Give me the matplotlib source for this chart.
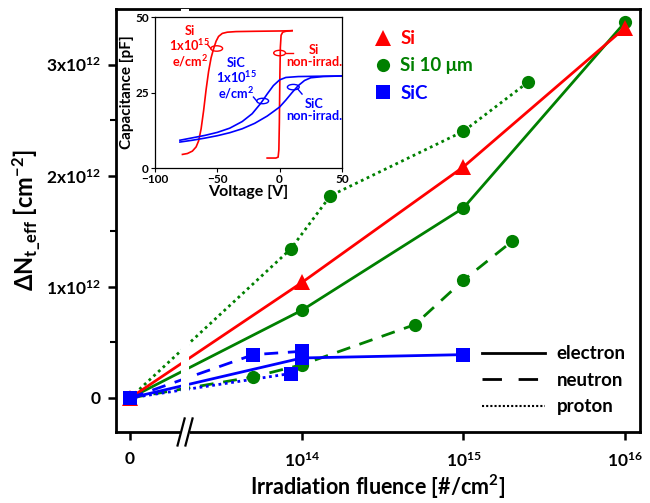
"""Trap density change vs irradiation fluence (Si / Si 10 um / SiC) with C-V inset."""
import numpy as np
import matplotlib
matplotlib.use("Agg")
import matplotlib.pyplot as plt
from matplotlib.lines import Line2D
from matplotlib.patches import Ellipse
from matplotlib import font_manager

# pick a family that really has a bold face
FAM = "DejaVu Sans"
for cand in ["Lato", "Open Sans", "Noto Sans", "Liberation Sans"]:
    try:
        p = font_manager.findfont(font_manager.FontProperties(family=cand, weight="bold"),
                                  fallback_to_default=False)
        if "bold" in p.lower():
            FAM = cand
            break
    except Exception:
        pass

plt.rcParams["font.family"] = [FAM, "DejaVu Sans"]
plt.rcParams["font.weight"] = "bold"
plt.rcParams["axes.labelweight"] = "bold"
plt.rcParams["mathtext.fontset"] = "custom"
plt.rcParams["mathtext.rm"] = f"{FAM}:bold"
plt.rcParams["mathtext.bf"] = f"{FAM}:bold"
plt.rcParams["mathtext.it"] = f"{FAM}:bold"
plt.rcParams["mathtext.default"] = "rm"

# ─── Main data: fluence [#/cm2] and delta N_t_eff [cm-2] ──────────────────
si_e_flu = [0, 1e14, 1e15, 1e16]
si_e_val = [0, 1.04e12, 2.08e12, 3.33e12]

si10_e_flu = [0, 1e14, 1e15, 1e16]
si10_e_val = [0, 0.79e12, 1.71e12, 3.38e12]
si10_n_flu = [0, 5e13, 1e14, 5e14, 1e15, 2e15]
si10_n_val = [0, 0.19e12, 0.30e12, 0.66e12, 1.06e12, 1.41e12]
si10_p_flu = [0, 8.5e13, 1.5e14, 1e15, 2.5e15]
si10_p_val = [0, 1.34e12, 1.82e12, 2.40e12, 2.84e12]

sic_e_flu = [0, 1e14, 1e15]
sic_e_val = [0, 0.36e12, 0.39e12]
sic_n_flu = [0, 5e13, 1e14]
sic_n_val = [0, 0.39e12, 0.42e12]
sic_p_flu = [0, 8.5e13]
sic_p_val = [0, 0.22e12]

y_ticks = [0, 1e12, 2e12, 3e12]
y_ticklabels = ["0", r"1x10$^{12}$", r"2x10$^{12}$", r"3x10$^{12}$"]
x_ticklabels = ["0", r"10$^{14}$", r"10$^{15}$", r"10$^{16}$"]

# ─── Inset data: C-V curves, voltage [V] / capacitance [pF] ───────────────
si_irr_v = [-78, -74, -70, -67, -65, -63, -61, -59, -57, -55, -53, -51, -49, -46, -42, -35, -20, 0, 10]
si_irr_c = [4.5, 4.8, 5.6, 7.0, 9.0, 13, 19, 26, 32, 36.5, 39.5, 42, 43.6, 44.6, 45.0, 45.2, 45.3, 45.4, 45.5]
si_non_v = [-10, -3, -1.2, -0.6, -0.2, 0.2, 0.6, 1.2, 2.5, 5, 10]
si_non_c = [3.3, 3.3, 3.6, 6, 15, 30, 40, 44, 45.0, 45.3, 45.5]
sic_irr_v = [-80, -70, -60, -50, -40, -30, -22, -15, -10, -5, 0, 5, 15, 30, 50]
sic_irr_c = [9.2, 10.0, 10.8, 11.8, 13.2, 15.4, 18.0, 21.5, 24.5, 27.3, 29.2, 30.0, 30.3, 30.4, 30.5]
sic_non_v = [-80, -70, -60, -50, -40, -30, -20, -10, 0, 5, 10, 15, 20, 25, 35, 50]
sic_non_c = [8.6, 9.2, 9.9, 10.7, 11.7, 13.0, 14.8, 17.2, 20.2, 22.5, 25.0, 27.3, 29.0, 29.9, 30.3, 30.5]

# ─── Axis mapping (log fluence with the "0" point placed before the break) ─
U_ZERO = 12.935
X_LIM = (12.848, 16.093)
BREAK = (13.251, 13.300)


def fx(flu):
    flu = np.asarray(flu, dtype=float)
    return np.where(flu > 0, np.log10(np.where(flu > 0, flu, 1.0)), U_ZERO)


RED, GREEN, BLUE = "#ff0000", "#008000", "#0000ff"
DASH = (0, (5, 3.5))
DOT = (0, (1, 1.3))

fig = plt.figure(figsize=(6.5, 5.03), dpi=100)
ax = fig.add_axes([0.1785, 0.1412, 0.806, 0.8408])

lw = 2.0
ms = 9.5
series = [
    (si10_n_flu, si10_n_val, GREEN, "o", DASH),
    (si10_p_flu, si10_p_val, GREEN, "o", DOT),
    (si10_e_flu, si10_e_val, GREEN, "o", "-"),
    (si_e_flu, si_e_val, RED, "^", "-"),
    (sic_n_flu, sic_n_val, BLUE, "s", DASH),
    (sic_p_flu, sic_p_val, BLUE, "s", DOT),
    (sic_e_flu, sic_e_val, BLUE, "s", "-"),
]
for flu, val, col, mk, ls in series:
    ax.plot(fx(flu), val, color=col, linestyle=ls, linewidth=lw, zorder=2)
for flu, val, col, mk, ls in series:
    ax.plot(fx(flu), val, color=col, linestyle="none", marker=mk,
            markersize=ms + (1.5 if mk == "^" else 0), markeredgewidth=0, zorder=4)

# white band to break the lines
ax.axvspan(*BREAK, color="white", zorder=3, linewidth=0)

ax.set_xlim(*X_LIM)
ax.set_ylim(-0.306e12, 3.50e12)
ax.set_xticks([U_ZERO, 14, 15, 16])
ax.set_xticklabels(x_ticklabels)
ax.set_yticks(y_ticks)
ax.set_yticklabels(y_ticklabels)
ax.set_yticks([0.5e12, 1.5e12, 2.5e12], minor=True)
ax.tick_params(axis="both", which="major", direction="out", length=6, width=1.8,
               labelsize=12.5, pad=5)
ax.tick_params(axis="y", which="minor", direction="out", length=4, width=1.5)
ax.tick_params(axis="x", pad=8)
for sp in ax.spines.values():
    sp.set_linewidth(2)

ax.set_xlabel("Irradiation fluence [#/cm$^{2}$]", fontsize=15.5, labelpad=2)
ax.set_ylabel(r"ΔN$_{t\_eff}$ [cm$^{-2}$]", fontsize=17, labelpad=2)

# axis break marks on the bottom spine
btr = ax.get_xaxis_transform()
ax.plot([BREAK[0] - 0.006, BREAK[1] + 0.006], [0, 0], color="white", linewidth=4,
        transform=btr, clip_on=False, zorder=6, solid_capstyle="butt")
for xb in BREAK:
    ax.plot([xb - 0.022, xb + 0.022], [-0.032, 0.032], color="black", linewidth=1.6,
            transform=btr, clip_on=False, zorder=7)

# legends
mk_handles = [
    Line2D([], [], color=RED, marker="^", linestyle="none", markersize=11, markeredgewidth=0),
    Line2D([], [], color=GREEN, marker="o", linestyle="none", markersize=9.5, markeredgewidth=0),
    Line2D([], [], color=BLUE, marker="s", linestyle="none", markersize=9.5, markeredgewidth=0),
]
leg1 = ax.legend(mk_handles, ["Si", "Si 10 μm", "SiC"], loc="upper left",
                 bbox_to_anchor=(0.46, 0.99), frameon=False, fontsize=13.5,
                 labelcolor=[RED, GREEN, BLUE], handlelength=1.0, handletextpad=0.4,
                 labelspacing=0.55)
ax.add_artist(leg1)
ls_handles = [
    Line2D([], [], color="black", linestyle="-", linewidth=2),
    Line2D([], [], color="black", linestyle=(0, (7, 6)), linewidth=2),
    Line2D([], [], color="black", linestyle=(0, (1, 1)), linewidth=1.5),
]
ax.legend(ls_handles, ["electron", "neutron", "proton"], loc="lower right",
          bbox_to_anchor=(1.005, 0.0), frameon=False, fontsize=13.5,
          handlelength=3.4, handletextpad=0.6, labelspacing=0.5)

# ─── Inset ────────────────────────────────────────────────────────────────
ins = fig.add_axes([0.2385, 0.666, 0.2875, 0.300])
ins.plot(si_irr_v, si_irr_c, color=RED, linewidth=1.2)
ins.plot(si_non_v, si_non_c, color=RED, linewidth=1.2)
ins.plot(sic_irr_v, sic_irr_c, color=BLUE, linewidth=1.2)
ins.plot(sic_non_v, sic_non_c, color=BLUE, linewidth=1.2)
ins.set_xlim(-100, 50)
ins.set_ylim(0, 50)
ins.set_xticks([-100, -50, 0, 50])
ins.set_yticks([0, 25, 50])
ins.tick_params(axis="both", direction="out", length=3, width=0.8, labelsize=8.5, pad=1.5)
for sp in ins.spines.values():
    sp.set_linewidth(0.9)
ins.set_xlabel("Voltage [V]", fontsize=11.5, labelpad=0)
ins.set_ylabel("Capacitance [pF]", fontsize=11, labelpad=1)

for (cx, cy, col) in [(-50.5, 39.6, RED), (0, 38.1, RED), (-13.6, 22.2, BLUE), (11, 26.8, BLUE)]:
    ins.add_patch(Ellipse((cx, cy), 9.5, 1.8, fill=False, edgecolor=col, linewidth=1.0))
ins.plot([-55.3, -58], [39.6, 41], color=RED, linewidth=1.0)
ins.plot([4.8, 11], [38.1, 38.1], color=RED, linewidth=1.0)
ins.plot([-18.4, -21], [22.2, 23.5], color=BLUE, linewidth=1.0)
ins.plot([14.5, 18], [26.2, 24.5], color=BLUE, linewidth=1.0)

txt_kw = dict(ha="center", va="center", fontsize=9.2, linespacing=1.0)
ins.text(-72, 40, "Si\n1x10$^{15}$\ne/cm$^{2}$", color=RED, **txt_kw)
ins.text(27.5, 37, "Si\nnon-irrad.", color=RED, **txt_kw)
ins.text(-35, 29.5, "SiC\n1x10$^{15}$\ne/cm$^{2}$", color=BLUE, **txt_kw)
ins.text(27.5, 19.3, "SiC\nnon-irrad.", color=BLUE, **txt_kw)

fig.savefig("out.png", dpi=100)
